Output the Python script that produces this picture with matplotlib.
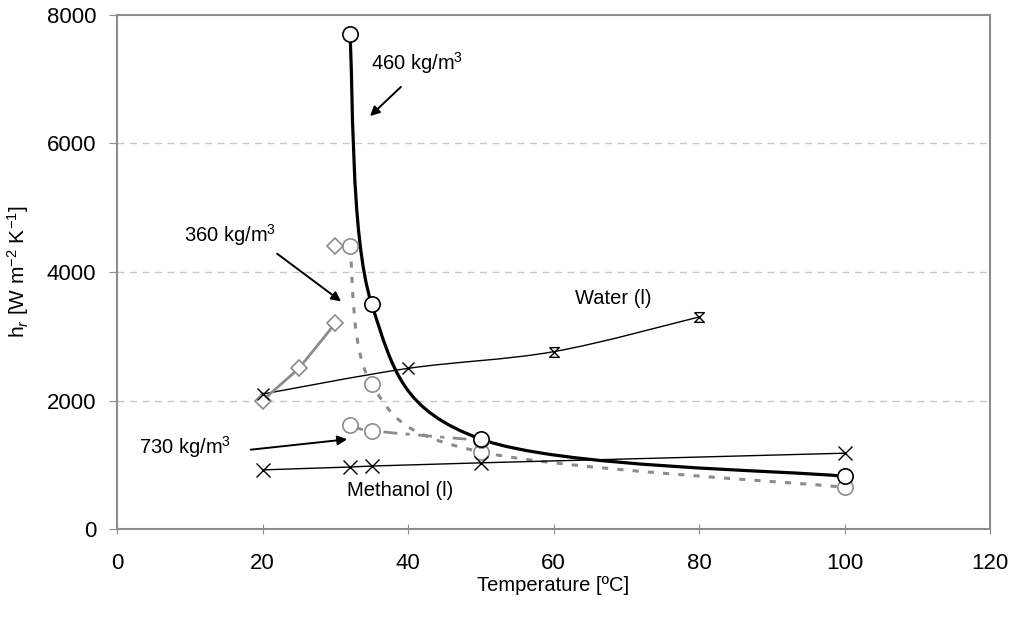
import numpy as np
import matplotlib
matplotlib.use('Agg')
import matplotlib.pyplot as plt
from matplotlib.path import Path
from matplotlib.patches import PathPatch

plt.rcParams['font.family'] = ['Liberation Sans', 'DejaVu Sans']
plt.rcParams['mathtext.fontset'] = 'custom'
plt.rcParams['mathtext.rm'] = 'Liberation Sans'
plt.rcParams['mathtext.it'] = 'Liberation Sans:italic'

# data (T in degC, h_r in W m-2 K-1)
t_460 = [32, 35, 50, 100]
h_460 = [7700, 3500, 1400, 820]

t_360 = [32, 35, 50, 100]
h_360 = [4400, 2250, 1200, 650]

t_730 = [32, 35, 50]
h_730 = [1620, 1530, 1380]

t_diam = [20, 25, 30]
h_diam = [2000, 2500, 3200]
t_diam_single = [30]
h_diam_single = [4400]

t_water = [20, 40, 60, 80]
h_water = [2100, 2500, 2760, 3300]

t_meoh = [20, 32, 35, 50, 100]
h_meoh = [920, 965, 980, 1030, 1180]


def smooth_path(x, y):
    # excel-ish smoothed line: catmull-rom segments as cubic beziers
    p = np.column_stack([x, y]).astype(float)
    n = len(p)
    verts = [p[0]]
    codes = [Path.MOVETO]
    for i in range(n - 1):
        p0 = p[max(i - 1, 0)]
        p1 = p[i]
        p2 = p[i + 1]
        p3 = p[min(i + 2, n - 1)]
        c1 = p1 + (p2 - p0) / 6.0
        c2 = p2 - (p3 - p1) / 6.0
        verts += [c1, c2, p2]
        codes += [Path.CURVE4] * 3
    return Path(verts, codes)


# hourglass marker
hourglass = Path([(-1, 1), (1, 1), (-1, -1), (1, -1), (-1, 1)],
                 [Path.MOVETO, Path.LINETO, Path.LINETO, Path.LINETO, Path.LINETO])

fig = plt.figure(figsize=(10.15, 6.17), dpi=100)
ax = fig.add_axes([0.1153, 0.1426, 0.8601, 0.8331])

gray = '#8c8c8c'

ax.set_xlim(0, 120)
ax.set_ylim(0, 8000)
ax.set_xticks(np.arange(0, 121, 20))
ax.set_yticks(np.arange(0, 8001, 2000))
for yv in [2000, 4000, 6000]:
    ax.axhline(yv, color='#c8c8c8', lw=1, ls=(0, (5, 4)), zorder=0)

# 460 kg/m3
ax.add_patch(PathPatch(smooth_path(t_460, h_460), fc='none', ec='black', lw=2.3, zorder=4))
ax.plot(t_460, h_460, ls='none', marker='o', ms=11, mfc='white', mec='black', mew=1.2, zorder=6)

# 360 kg/m3
ax.add_patch(PathPatch(smooth_path(t_360, h_360), fc='none', ec=gray, lw=2.2,
                       ls=(0, (2, 3)), zorder=3))
ax.plot(t_360, h_360, ls='none', marker='o', ms=11, mfc='white', mec=gray, mew=1.2, zorder=5)

# 730 kg/m3
ax.add_patch(PathPatch(smooth_path(t_730, h_730), fc='none', ec=gray, lw=2.0,
                       ls=(0, (5, 3, 1.5, 3)), zorder=3))
ax.plot(t_730, h_730, ls='none', marker='o', ms=11, mfc='white', mec=gray, mew=1.2, zorder=5)

# diamonds
ax.plot(t_diam, h_diam, color=gray, lw=2, marker='D', ms=8, mfc='white', mec=gray, mew=1.2, zorder=5)
ax.plot(t_diam_single, h_diam_single, ls='none', marker='D', ms=8, mfc='white', mec=gray, mew=1.2, zorder=5)

# water (l)
ax.add_patch(PathPatch(smooth_path(t_water, h_water), fc='none', ec='black', lw=1.0, zorder=4))
ax.plot(t_water[:2], h_water[:2], ls='none', marker='x', ms=8, mec='black', mew=1.0, zorder=6)
ax.plot(t_water[2:], h_water[2:], ls='none', marker=hourglass, ms=7, mfc='none', mec='black', mew=1.0, zorder=6)

# methanol (l)
ax.plot(t_meoh, h_meoh, color='black', lw=1.0, marker='x', ms=10, mew=1.0, zorder=6)

# text labels
fs_txt = 14.5
ax.text(41.2, 7253, '460 kg/m$^{3}$', fontsize=fs_txt, ha='center', va='center')
ax.text(15.5, 4576, '360 kg/m$^{3}$', fontsize=fs_txt, ha='center', va='center')
ax.text(9.3, 1276, '730 kg/m$^{3}$', fontsize=fs_txt, ha='center', va='center')
ax.text(68.2, 3595, 'Water (l)', fontsize=fs_txt, ha='center', va='center')
ax.text(38.9, 607, 'Methanol (l)', fontsize=fs_txt, ha='center', va='center')

arr = dict(arrowstyle='-|>', color='black', lw=1.4, mutation_scale=14)
ax.annotate('', xy=(34.5, 6397), xytext=(39.3, 6910), arrowprops=arr)
ax.annotate('', xy=(31.1, 3517), xytext=(21.7, 4311), arrowprops=arr)
ax.annotate('', xy=(32.0, 1401), xytext=(18.0, 1230), arrowprops=arr)

for s in ax.spines.values():
    s.set_color(gray)
    s.set_linewidth(1.5)
ax.tick_params(axis='y', direction='out', length=6, color=gray, labelsize=16, pad=9)
ax.tick_params(axis='x', direction='inout', length=7, color=gray, labelsize=16, pad=14)

ax.set_xlabel('Temperature [ºC]', fontsize=14.5, labelpad=1)
ax.set_ylabel('h$_{r}$ [W m$^{-2}$ K$^{-1}$]', fontsize=15)
ax.yaxis.set_label_coords(-0.098, 0.5)

fig.savefig('out.png', dpi=100)
